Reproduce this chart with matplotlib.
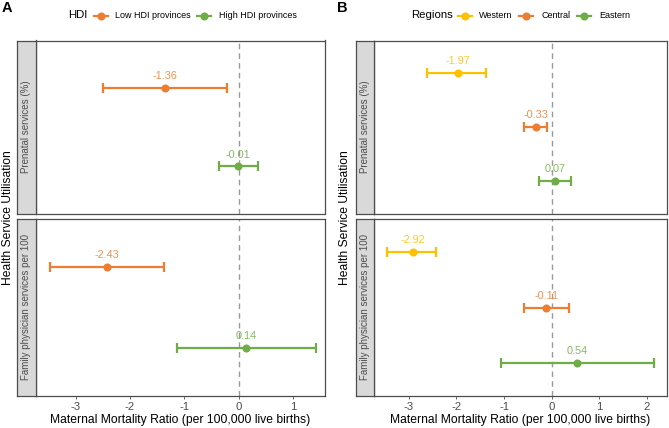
import matplotlib
matplotlib.use("Agg")
import matplotlib.pyplot as plt
from matplotlib.lines import Line2D

plt.rcParams['font.family'] = ['Liberation Sans', 'DejaVu Sans']

# ---------------- data ----------------
hdi_groups = ['Low HDI provinces', 'High HDI provinces']
hdi_colors = ['#ED7D31', '#70AD47']
a_prenatal_est = [-1.36, -0.01]
a_prenatal_lo = [-2.49, -0.36]
a_prenatal_hi = [-0.22, 0.35]
a_family_est = [-2.43, 0.14]
a_family_lo = [-3.48, -1.13]
a_family_hi = [-1.37, 1.42]

regions = ['Western', 'Central', 'Eastern']
region_colors = ['#FFC000', '#ED7D31', '#70AD47']
b_prenatal_est = [-1.97, -0.33, 0.07]
b_prenatal_lo = [-2.61, -0.58, -0.27]
b_prenatal_hi = [-1.37, -0.09, 0.41]
b_family_est = [-2.92, -0.11, 0.54]
b_family_lo = [-3.45, -0.59, -1.07]
b_family_hi = [-2.43, 0.37, 2.14]

facets = ['Prenatal services (%)', 'Family physician services per 100']
a_ticks = [-3, -2, -1, 0, 1]
b_ticks = [-3, -2, -1, 0, 1, 2]
xlabel = 'Maternal Mortality Ratio (per 100,000 live births)'
ylabel = 'Health Service Utilisation'

# ---------------- layout ----------------
W, H = 669, 428
fig = plt.figure(figsize=(W / 100, H / 100), dpi=100)


def fx(px):
    return px / W


def fy(py):
    return 1 - py / H


def add_ax(x0, x1, y0, y1):
    return fig.add_axes([fx(x0), fy(y1), fx(x1) - fx(x0), (y1 - y0) / H])


border_col = '#4D4D4D'
text_col = '#4D4D4D'


def draw_panel(ax, est, lo, hi, colors, xlim, ticks, show_x):
    n = len(est)
    ys = list(range(1, n + 1))
    ax.axvline(0, color='#9A9A9A', lw=1.0, ls=(0, (4, 3)), zorder=1)
    for y, e, l, h, c in zip(ys, est, lo, hi, colors):
        ax.errorbar([e], [y], xerr=[[e - l], [h - e]], fmt='o', color=c,
                    ecolor=c, elinewidth=1.6, capsize=3.8, capthick=1.6,
                    markersize=4.8, zorder=3)
        ax.annotate(f'{e:.2f}', (e, y), xytext=(0, 8.5), textcoords='offset points',
                    ha='center', va='center', fontsize=7.8, color=c, alpha=0.85,
                    zorder=4)
    ax.set_xlim(*xlim)
    ax.set_ylim(n + 0.6, 0.4)
    ax.set_yticks([])
    ax.set_xticks(ticks)
    if show_x:
        ax.set_xticklabels([str(t) for t in ticks])
        ax.tick_params(axis='x', length=2.5, width=0.7, color='#666666',
                       labelsize=8.2, labelcolor=text_col, pad=1.5)
    else:
        ax.tick_params(axis='x', length=0, labelbottom=False)
    for s in ax.spines.values():
        s.set_color(border_col)
        s.set_linewidth(0.9)


def strip(x0, x1, y0, y1, label):
    sax = add_ax(x0, x1, y0, y1)
    sax.set_xticks([])
    sax.set_yticks([])
    sax.set_facecolor('#D9D9D9')
    for s in sax.spines.values():
        s.set_color(border_col)
        s.set_linewidth(0.9)
    sax.text(0.5, 0.5, label, rotation=90, ha='center', va='center',
             fontsize=7, color=text_col, transform=sax.transAxes)


rows = [(40.5, 213.5), (219, 396)]

# Panel A
a_data = [(a_prenatal_est, a_prenatal_lo, a_prenatal_hi),
          (a_family_est, a_family_lo, a_family_hi)]
for i, ((y0, y1), (e, l, h)) in enumerate(zip(rows, a_data)):
    ax = add_ax(36, 325, y0, y1)
    draw_panel(ax, e, l, h, hdi_colors, (-3.73, 1.59), a_ticks, i == 1)
    strip(17, 36, y0, y1, facets[i])
    if i == 1:
        ax.set_xlabel(xlabel, fontsize=8.7, color='black', labelpad=1.5)

# Panel B
b_data = [(b_prenatal_est, b_prenatal_lo, b_prenatal_hi),
          (b_family_est, b_family_lo, b_family_hi)]
for i, ((y0, y1), (e, l, h)) in enumerate(zip(rows, b_data)):
    ax = add_ax(374, 667, y0, y1)
    draw_panel(ax, e, l, h, region_colors, (-3.73, 2.42), b_ticks, i == 1)
    strip(356, 374, y0, y1, facets[i])
    if i == 1:
        ax.set_xlabel(xlabel, fontsize=8.7, color='black', labelpad=1.5)

# y titles
fig.text(fx(8), fy(218), ylabel, rotation=90, ha='center', va='center', fontsize=8.7)
fig.text(fx(345), fy(218), ylabel, rotation=90, ha='center', va='center', fontsize=8.7)

# panel letters
fig.text(fx(2), fy(8), 'A', ha='left', va='center', fontsize=10.5, fontweight='bold')
fig.text(fx(337), fy(8), 'B', ha='left', va='center', fontsize=10.5, fontweight='bold')


# legends
def legend(title, title_x, labels, colors, key_xs, text_xs, y=15.5):
    fig.text(fx(title_x), fy(y), title, ha='left', va='center', fontsize=8.2)
    for lab, c, kx, tx in zip(labels, colors, key_xs, text_xs):
        fig.add_artist(Line2D([fx(kx - 7), fx(kx + 7)], [fy(y), fy(y)], color=c, lw=1.6,
                              transform=fig.transFigure))
        fig.add_artist(Line2D([fx(kx)], [fy(y)], marker='o', markersize=4.8, color=c,
                              transform=fig.transFigure))
        fig.text(fx(tx), fy(y), lab, ha='left', va='center', fontsize=6.5)


legend('HDI', 68, hdi_groups, hdi_colors, [101, 204], [115, 219])
legend('Regions', 411, regions, region_colors, [465, 526, 584], [479, 542, 599])

fig.savefig('out.png', dpi=100)
